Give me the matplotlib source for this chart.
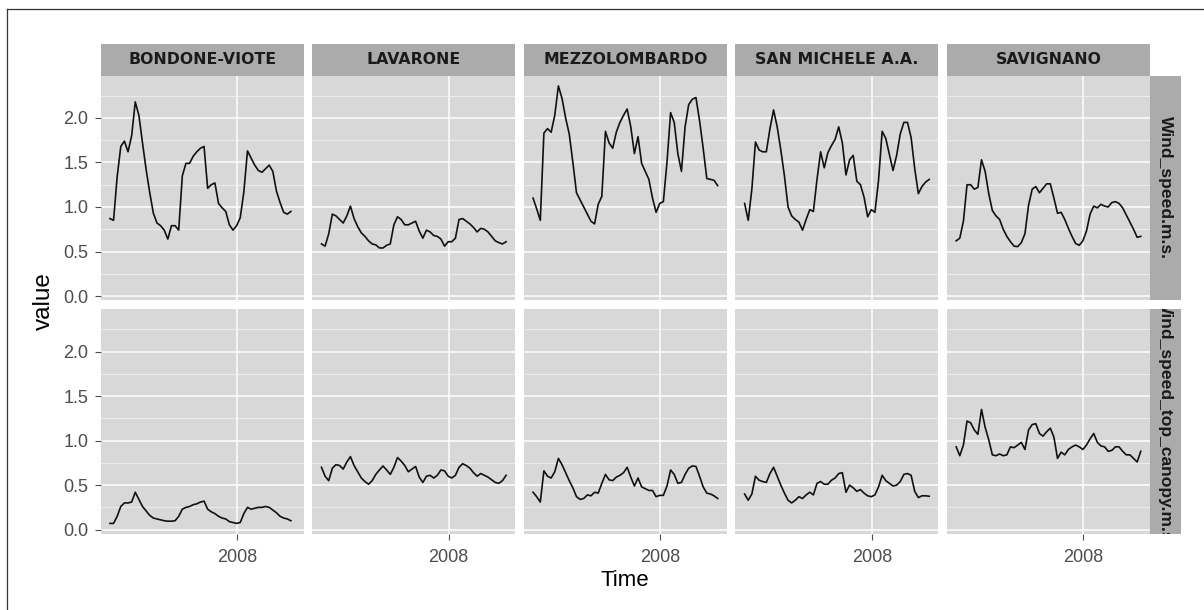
import numpy as np
import pandas as pd
import matplotlib
matplotlib.use("Agg")
import matplotlib.pyplot as plt
from matplotlib.lines import Line2D
from matplotlib.ticker import NullLocator

nan = np.nan

# ---------------- data ----------------
stations = ["BONDONE-VIOTE", "LAVARONE", "MEZZOLOMBARDO", "SAN MICHELE A.A.", "SAVIGNANO"]
variables = ["Wind_speed.m.s.", "Wind_speed_top_canopy.m.s."]
time = pd.date_range("2007-04-30", periods=52, freq="7D")
x_ticks = [pd.Timestamp("2008-01-01")]
x_tick_labels = ["2008"]
y_ticks = [0.0, 0.5, 1.0, 1.5, 2.0]
y_tick_labels = ["0.0", "0.5", "1.0", "1.5", "2.0"]
y_minor = [0.25, 0.75, 1.25, 1.75, 2.25]

wind_bondone = [0.87, 0.85, 1.34, 1.68, 1.74, 1.62, 1.80, 2.18, 2.03, 1.72,
                1.42, 1.16, 0.93, 0.82, 0.79, 0.74, 0.64, 0.79, 0.79, 0.74,
                1.35, 1.49, 1.49, 1.57, 1.62, 1.66, 1.68, 1.21, 1.25, 1.27,
                1.04, 0.99, 0.95, 0.80, 0.74, 0.79, 0.88, 1.17, 1.63, 1.55,
                1.47, 1.41, 1.39, 1.43, 1.47, 1.40, 1.18, 1.05, 0.94, 0.92,
                0.95, nan]
canopy_bondone = [0.07, 0.07, 0.15, 0.26, 0.30, 0.30, 0.31, 0.42, 0.34, 0.26,
                  0.21, 0.16, 0.13, 0.12, 0.11, 0.10, 0.095, 0.095, 0.10, 0.15,
                  0.23, 0.25, 0.26, 0.28, 0.29, 0.31, 0.32, 0.23, 0.20, 0.18,
                  0.15, 0.13, 0.12, 0.09, 0.08, 0.07, 0.08, 0.18, 0.25, 0.23,
                  0.24, 0.25, 0.25, 0.26, 0.25, 0.22, 0.19, 0.15, 0.13, 0.12,
                  0.10, nan]
wind_lavarone = [0.585, 0.56, 0.70, 0.92, 0.90, 0.86, 0.82, 0.90, 1.01, 0.87,
                 0.78, 0.71, 0.67, 0.62, 0.585, 0.575, 0.54, 0.54, 0.57, 0.585,
                 0.80, 0.89, 0.86, 0.80, 0.80, 0.82, 0.84, 0.73, 0.65, 0.74,
                 0.72, 0.68, 0.67, 0.64, 0.56, 0.61, 0.61, 0.65, 0.86, 0.87,
                 0.84, 0.81, 0.77, 0.72, 0.76, 0.75, 0.72, 0.67, 0.62, 0.60,
                 0.585, 0.61]
canopy_lavarone = [0.70, 0.60, 0.55, 0.69, 0.73, 0.72, 0.68, 0.76, 0.82, 0.72,
                   0.65, 0.58, 0.54, 0.51, 0.55, 0.62, 0.67, 0.715, 0.67, 0.62,
                   0.70, 0.81, 0.77, 0.72, 0.65, 0.68, 0.71, 0.59, 0.53, 0.60,
                   0.61, 0.58, 0.61, 0.67, 0.66, 0.60, 0.58, 0.61, 0.70, 0.74,
                   0.72, 0.69, 0.64, 0.60, 0.63, 0.61, 0.59, 0.56, 0.53, 0.52,
                   0.55, 0.61]
wind_mezzolombardo = [1.10, 0.98, 0.85, 1.83, 1.88, 1.84, 2.03, 2.36, 2.22, 2.00,
                      1.82, 1.50, 1.16, 1.08, 1.00, 0.92, 0.84, 0.81, 1.03, 1.12,
                      1.85, 1.72, 1.66, 1.84, 1.95, 2.03, 2.10, 1.90, 1.60, 1.79,
                      1.49, 1.40, 1.31, 1.10, 0.94, 1.04, 1.06, 1.50, 2.06, 1.95,
                      1.60, 1.40, 1.90, 2.15, 2.21, 2.23, 1.97, 1.66, 1.32, 1.31,
                      1.30, 1.24]
canopy_mezzolombardo = [0.42, 0.37, 0.31, 0.66, 0.60, 0.58, 0.65, 0.80, 0.73, 0.64,
                        0.55, 0.47, 0.37, 0.34, 0.35, 0.39, 0.38, 0.42, 0.41, 0.52,
                        0.62, 0.56, 0.55, 0.59, 0.61, 0.64, 0.70, 0.59, 0.49, 0.58,
                        0.48, 0.46, 0.44, 0.44, 0.37, 0.385, 0.385, 0.49, 0.67, 0.62,
                        0.52, 0.53, 0.62, 0.69, 0.715, 0.71, 0.60, 0.48, 0.41, 0.40,
                        0.38, 0.35]
wind_sanmichele = [1.04, 0.85, 1.20, 1.73, 1.64, 1.62, 1.62, 1.88, 2.09, 1.90,
                   1.64, 1.35, 1.00, 0.90, 0.86, 0.83, 0.74, 0.86, 0.97, 0.95,
                   1.31, 1.62, 1.44, 1.61, 1.69, 1.76, 1.90, 1.72, 1.36, 1.53,
                   1.58, 1.29, 1.25, 1.11, 0.89, 0.97, 0.94, 1.30, 1.85, 1.77,
                   1.59, 1.41, 1.58, 1.82, 1.95, 1.95, 1.78, 1.43, 1.15, 1.23,
                   1.28, 1.31]
canopy_sanmichele = [0.40, 0.33, 0.40, 0.60, 0.555, 0.54, 0.53, 0.63, 0.70, 0.60,
                     0.50, 0.41, 0.33, 0.30, 0.33, 0.37, 0.35, 0.39, 0.42, 0.39,
                     0.52, 0.54, 0.51, 0.51, 0.555, 0.58, 0.63, 0.64, 0.42, 0.50,
                     0.47, 0.43, 0.45, 0.41, 0.38, 0.37, 0.39, 0.48, 0.61, 0.55,
                     0.52, 0.49, 0.50, 0.54, 0.62, 0.63, 0.61, 0.43, 0.36, 0.38,
                     0.38, 0.375]
wind_savignano = [0.62, 0.65, 0.84, 1.25, 1.25, 1.20, 1.22, 1.53, 1.40, 1.15,
                  0.96, 0.90, 0.86, 0.75, 0.67, 0.61, 0.56, 0.555, 0.60, 0.70,
                  1.02, 1.20, 1.23, 1.16, 1.21, 1.26, 1.26, 1.10, 0.93, 0.94,
                  0.86, 0.76, 0.67, 0.59, 0.57, 0.62, 0.73, 0.92, 1.01, 0.99,
                  1.03, 1.01, 1.00, 1.05, 1.06, 1.04, 0.99, 0.91, 0.83, 0.75,
                  0.66, 0.67]
canopy_savignano = [0.93, 0.83, 0.95, 1.22, 1.20, 1.12, 1.07, 1.35, 1.15, 1.01,
                    0.84, 0.83, 0.85, 0.83, 0.84, 0.93, 0.92, 0.95, 0.98, 0.90,
                    1.12, 1.18, 1.19, 1.08, 1.05, 1.10, 1.14, 1.04, 0.80, 0.87,
                    0.84, 0.90, 0.93, 0.95, 0.93, 0.90, 0.95, 1.02, 1.08, 0.98,
                    0.94, 0.93, 0.88, 0.89, 0.93, 0.93, 0.88, 0.84, 0.84, 0.80,
                    0.76, 0.88]

series = [
    [wind_bondone, wind_lavarone, wind_mezzolombardo, wind_sanmichele, wind_savignano],
    [canopy_bondone, canopy_lavarone, canopy_mezzolombardo, canopy_sanmichele, canopy_savignano],
]

# ---------------- style ----------------
W, H = 1204, 610
PANEL_BG = "#d8d8d8"
STRIP_BG = "#ababab"
TICK_COL = "#4d4d4d"
SANS = ["Liberation Sans", "DejaVu Sans"]

fig = plt.figure(figsize=(W / 100, H / 100), dpi=100)


def px_axes(x0, y0, x1, y1):
    return fig.add_axes([x0 / W, 1 - y1 / H, (x1 - x0) / W, (y1 - y0) / H])


panel_left, panel_w, col_gap = 100.7, 203.06, 8.5
row_tops, panel_h = [75.7, 309.3], 224.3
strip_top = 44.0
rstrip_x0, rstrip_x1 = 1150.0, 1181.0

allvals = np.concatenate([np.asarray(s, float) for row in series for s in row])
lo, hi = np.nanmin(allvals), np.nanmax(allvals)
ylim = (lo - 0.05 * (hi - lo), hi + 0.05 * (hi - lo))
tnum = matplotlib.dates.date2num(time)
span = tnum[-1] - tnum[0]
xlim = (tnum[0] - 0.05 * span, tnum[-1] + 0.05 * span)

for r in range(2):
    for c in range(5):
        x0 = panel_left + c * (panel_w + col_gap)
        y0 = row_tops[r]
        ax = px_axes(x0, y0, x0 + panel_w, y0 + panel_h)
        ax.set_facecolor(PANEL_BG)
        for sp in ax.spines.values():
            sp.set_visible(False)
        ax.plot(tnum, series[r][c], color="#111111", lw=1.2, zorder=3)
        ax.set_xlim(xlim)
        ax.set_ylim(ylim)
        ax.set_yticks(y_ticks)
        ax.set_yticks(y_minor, minor=True)
        ax.set_xticks(matplotlib.dates.date2num(x_ticks))
        ax.xaxis.set_minor_locator(NullLocator())
        ax.grid(which="major", color="white", lw=1.1, zorder=1)
        ax.grid(which="minor", axis="y", color="#f0f0f0", lw=0.6, zorder=1)
        ax.set_axisbelow(True)
        ax.tick_params(which="minor", length=0)
        ax.tick_params(which="major", length=4.2, width=0.8, color=TICK_COL,
                       labelcolor=TICK_COL, labelsize=13)
        ax.tick_params(axis="y", pad=4.6)
        ax.tick_params(axis="x", pad=7.0)
        if c == 0:
            ax.set_yticklabels(y_tick_labels, fontfamily=SANS)
        else:
            ax.tick_params(axis="y", left=False, labelleft=False)
        if r == 1:
            ax.set_xticklabels(x_tick_labels, fontfamily=SANS)
        else:
            ax.tick_params(axis="x", bottom=False, labelbottom=False)

        # top strips
        if r == 0:
            sax = px_axes(x0, strip_top, x0 + panel_w, row_tops[0])
            sax.set_facecolor(STRIP_BG)
            sax.set_xticks([]); sax.set_yticks([])
            for sp in sax.spines.values():
                sp.set_visible(False)
            sax.text(0.5, 0.5, stations[c], ha="center", va="center",
                     fontsize=11.3, color="#1a1a1a", fontfamily="DejaVu Sans",
                     fontweight="bold", transform=sax.transAxes)

    # right strips
    rax = px_axes(rstrip_x0, row_tops[r], rstrip_x1, row_tops[r] + panel_h)
    rax.set_facecolor(STRIP_BG)
    rax.set_xticks([]); rax.set_yticks([])
    for sp in rax.spines.values():
        sp.set_visible(False)
    rax.text(0.5, 0.5, variables[r], ha="center", va="center", rotation=-90,
             fontsize=12.6, color="#1a1a1a", fontfamily=SANS, fontweight="bold",
             transform=rax.transAxes, clip_on=True)

# axis titles
fig.text(625 / W, 1 - 581 / H, "Time", ha="center", va="center",
         fontsize=16, fontfamily=SANS, color="black")
fig.text(43.5 / W, 1 - 301 / H, "value", ha="center", va="center", rotation=90,
         fontsize=17.5, fontfamily=SANS, color="black")

# partial outer frame (left & top edges as in the reference)
fig.add_artist(Line2D([7.3 / W, 7.3 / W], [1 - 9.3 / H, 0], transform=fig.transFigure,
                      color="#333333", lw=0.9))
fig.add_artist(Line2D([7.3 / W, 1], [1 - 9.3 / H, 1 - 9.3 / H], transform=fig.transFigure,
                      color="#333333", lw=0.9))

fig.savefig("out.png", dpi=100, facecolor="white")
